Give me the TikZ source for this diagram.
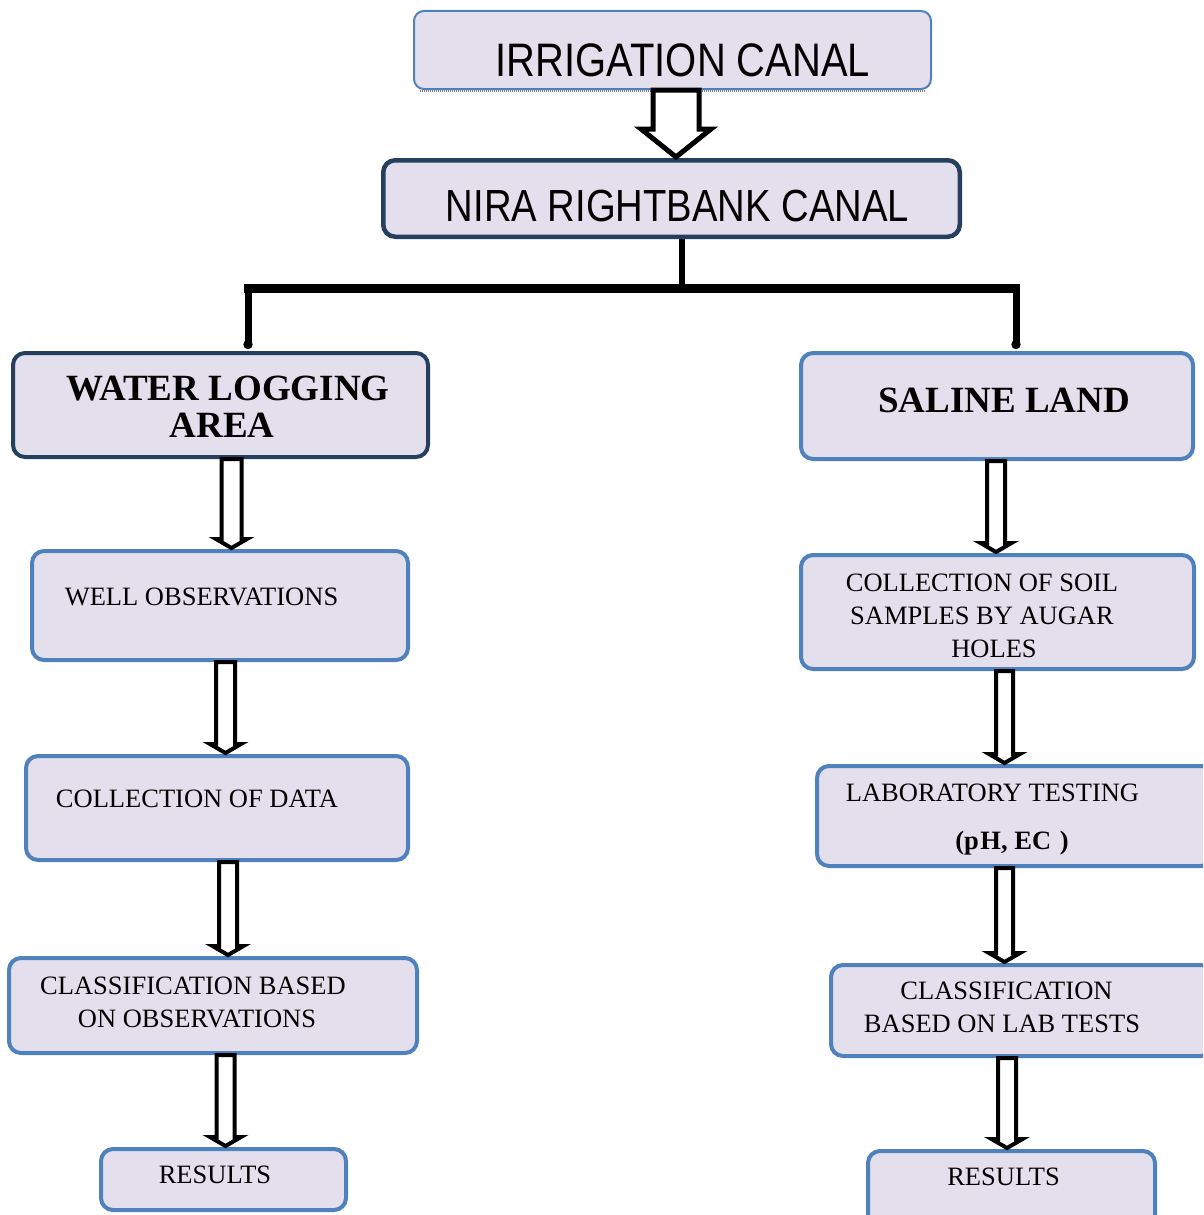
\documentclass[tikz,border=0pt]{standalone}
\usepackage{fontspec}
\setmainfont{Liberation Serif}
\newfontfamily\narrowsans[FakeStretch=0.85]{Liberation Sans}
\usetikzlibrary{calc,arrows.meta}
\definecolor{lav}{HTML}{E4DFEC}
\definecolor{lblue}{HTML}{4F81BD}
\definecolor{navy}{HTML}{253F5F}
\tikzset{
  box/.style={draw=lblue, line width=4pt, fill=lav, rounded corners=12pt, inner sep=0pt},
  darkbox/.style={box, draw=navy},
  thinbox/.style={box, line width=2pt, rounded corners=10pt},
  txt/.style={inner sep=0pt, align=center, font=\fontsize{26.5}{33}\selectfont},
  bigtxt/.style={inner sep=0pt, align=center, font=\bfseries\fontsize{37}{37}\selectfont},
  sanstxt/.style={inner sep=0pt, font=\narrowsans\fontsize{47}{47}\selectfont},
  harrow/.style={draw=black, fill=white, line join=miter},
}
% hollow block arrow: from node, to node, x centre, half shaft, half head, head length, line width
\newcommand\hollow[7]{%
  \draw[harrow, line width=#7pt] let \p1=(#1.south), \p2=(#2.north) in
    ({(#3-#4)*1pt},\y1) -- ({(#3+#4)*1pt},\y1) -- ({(#3+#4)*1pt},{\y2+#6*1pt})
    -- ({(#3+#5)*1pt},{\y2+#6*1pt}) -- ({#3*1pt},{\y2+1pt})
    -- ({(#3-#5)*1pt},{\y2+#6*1pt}) -- ({(#3-#4)*1pt},{\y2+#6*1pt}) -- cycle;}
\begin{document}
\begin{tikzpicture}[x=1pt,y=-1pt]
\useasboundingbox (0,0) rectangle (1203,1215);
\clip (0,0) rectangle (1203,1215);
\fill[white] (0,0) rectangle (1203,1215);

% boxes
\node[thinbox, minimum width=517, minimum height=78] (irr) at (672.5,50) {};
\draw[gray, line width=2pt, dash pattern=on 1pt off 1pt]
  ([xshift=7pt,yshift=-1pt]irr.south west) -- ([xshift=-7pt,yshift=-1pt]irr.south east);
\node[darkbox, line width=4.5pt, minimum width=576.5, minimum height=76.5] (nira) at (671.5,198.5) {};
\node[darkbox, minimum width=415, minimum height=104] (wl) at (220.5,405) {};
\node[box, minimum width=392, minimum height=106] (sal) at (997,406) {};
\node[box, minimum width=376, minimum height=109] (well) at (220,605.5) {};
\node[box, minimum width=382, minimum height=104] (coll) at (217,808) {};
\node[box, minimum width=408, minimum height=95] (cls) at (213,1005.5) {};
\node[box, minimum width=245, minimum height=61] (res1) at (223.5,1179.5) {};
\node[box, minimum width=393, minimum height=114] (soil) at (997.5,612) {};
\node[box, minimum width=396, minimum height=100] (lab) at (1015,816) {};
\node[box, minimum width=382, minimum height=91] (cls2) at (1022,1010.5) {};
\node[box, minimum width=287, minimum height=87] (res2) at (1011.5,1194.5) {};

% texts
\node[sanstxt] (irr-t) at (683,60) {IRRIGATION CANAL};
\node[sanstxt, font=\narrowsans\fontsize{45}{45}\selectfont] (nira-t) at (677.5,206) {NIRA RIGHTBANK CANAL};
\node[bigtxt] (wl-t) at (228,406.5) {WATER LOGGING\\AREA\hspace*{12pt}};
\node[bigtxt] (sal-t) at (1004,400) {SALINE LAND};
\node[txt] (well-t) at (201.5,597) {WELL OBSERVATIONS};
\node[txt] (coll-t) at (197,799) {COLLECTION OF DATA};
\node[txt] (cls-t) at (193,1002.5) {CLASSIFICATION BASED\\\hspace*{8pt}ON OBSERVATIONS};
\node[txt] (res1-t) at (215,1175) {RESULTS};
\node[txt] (soil-t) at (982,616) {COLLECTION OF SOIL\\SAMPLES BY AUGAR\\\hspace*{24pt}HOLES};
\node[txt] (lab-t1) at (992.5,793) {LABORATORY TESTING};
\node[txt, font=\bfseries\fontsize{26.5}{33}\selectfont] (lab-t2) at (1012,843) {(p\hspace{1.5pt}H, EC\hspace{2pt} )};
\node[txt] (cls2-t) at (1002,1007.5) {\hspace*{9pt}CLASSIFICATION\\BASED ON LAB TESTS};
\node[txt] (res2-t) at (1003.5,1177) {RESULTS};

% tree connector
\coordinate (jc) at (682,288);
\coordinate (jl) at (248,288);
\coordinate (jr) at (1016,288);
\draw[line width=6pt] (nira.south -| jc) -- (jc);
\draw[line width=9pt] ([xshift=-4pt]jl) -- ([xshift=4pt]jr);
\draw[line width=7pt, -{Circle[length=9pt,width=9pt]}] (jl) -- ([yshift=2pt]wl.north -| jl);
\draw[line width=7pt, -{Circle[length=9pt,width=9pt]}] (jr) -- ([yshift=2pt]sal.north -| jr);

% hollow arrows
\hollow{irr}{nira}{676}{23}{35}{29}{5}
\hollow{wl}{well}{231.5}{10}{15.5}{10}{4}
\hollow{well}{coll}{225.5}{9.5}{15.5}{10}{4}
\hollow{coll}{cls}{228}{9}{15.5}{10}{4}
\hollow{cls}{res1}{225.5}{9}{15.5}{10}{4}
\hollow{sal}{soil}{996}{9}{15.5}{10}{4}
\hollow{soil}{lab}{1004.5}{8.5}{15.5}{10}{4}
\hollow{lab}{cls2}{1004.5}{8.5}{15.5}{10}{4}
\hollow{cls2}{res2}{1007}{9}{15.5}{10}{4}
\end{tikzpicture}
\end{document}
